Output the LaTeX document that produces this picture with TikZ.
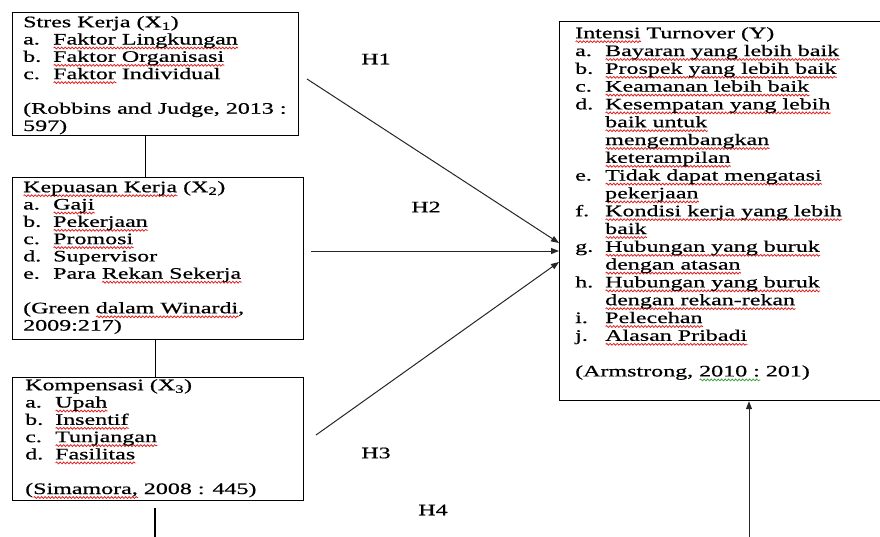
\documentclass[tikz,border=0pt]{standalone}
\usepackage{fontspec}
\usetikzlibrary{arrows.meta,calc,decorations.pathmorphing}
\newfontfamily\tnr[FakeStretch=1.5,FakeBold=0.6]{Liberation Serif}
\definecolor{spell}{RGB}{225,35,35}
\definecolor{gram}{RGB}{60,165,60}
\newcommand\wavy[2]{\setbox0=\hbox{#2}\leavevmode\rlap{\tikz[x=1pt,y=1pt,baseline=0pt]{\draw[#1,line width=0.8pt,decorate,decoration={snake,amplitude=0.9pt,segment length=3.5pt}] (0,-3.5) -- (\wd0,-3.5);}}\box0\relax}
\newcommand\rw[1]{\wavy{spell}{#1}}
\newcommand\gw[1]{\wavy{gram}{#1}}
\newcommand\itm[1]{\makebox[30pt][l]{#1}}
\newcommand\fst{\rule{0pt}{12pt}}
\newcommand\fA{\tnr\fontsize{16}{17.3}\selectfont}
\newcommand\fB{\tnr\fontsize{16}{17.8}\selectfont}
\setlength{\lineskiplimit}{-30pt}
\begin{document}
\begin{tikzpicture}[x=1pt,y=-1pt,
  box/.style={draw=black,line width=1.2pt,inner sep=0pt,anchor=north west},
  txt/.style={inner sep=0pt,anchor=north west,align=left,font=\fA},
  ytxt/.style={txt,font=\fB},
  hlbl/.style={inner sep=0pt,font=\fA},
  ln/.style={draw=black,line width=1.2pt},
  arr/.style={draw=black!85,line width=1pt,-{Triangle[length=8pt,width=6pt]}}]
\useasboundingbox (0,0) rectangle (880,536);
\clip (0,0) rectangle (880,536);
\fill[white] (0,0) rectangle (880,536);

% boxes
\node[box,minimum width=286pt,minimum height=123pt] (x1) at (12,12) {};
\node[box,minimum width=291pt,minimum height=162pt] (x2) at (12,177) {};
\node[box,minimum width=291pt,minimum height=123pt] (x3) at (12,377) {};
\node[box,minimum width=401pt,minimum height=379pt] (y) at (559,21) {};

% texts
\node[txt] (x1t) at (23,15) {\fst Stres Kerja (X\textsubscript{1})\\
\itm{a.}\rw{Faktor Lingkungan}\\
\itm{b.}\rw{Faktor Organisasi}\\
\itm{c.}\rw{Faktor} Individual\\
\mbox{}\\
(Robbins and Judge, 2013 :\\
597)};

\node[txt] (x2t) at (23,180) {\fst\rw{Kepuasan Kerja} (X\textsubscript{2})\\
\itm{a.}\rw{Gaji}\\
\itm{b.}\rw{Pekerjaan}\\
\itm{c.}\rw{Promosi}\\
\itm{d.}Supervisor\\
\itm{e.}Para \rw{Rekan Sekerja}\\
\mbox{}\\
(Green \rw{dalam Winardi},\\
2009:217)};

\node[txt] (x3t) at (25,378) {\fst Kompensasi (X\textsubscript{3})\\
\itm{a.}\rw{Upah}\\
\itm{b.}\rw{Insentif}\\
\itm{c.}\rw{Tunjangan}\\
\itm{d.}\rw{Fasilitas}\\
\mbox{}\\
(\rw{Simamora,} 2008 : 445)};

\node[ytxt] (yt) at (575,26) {\fst\rw{Intensi} Turnover (Y)\\
\itm{a.}\rw{Bayaran yang lebih baik}\\
\itm{b.}\rw{Prospek yang lebih baik}\\
\itm{c.}\rw{Keamanan lebih baik}\\
\itm{d.}\rw{Kesempatan yang lebih}\\
\itm{}\rw{baik untuk}\\
\itm{}\rw{mengembangkan}\\
\itm{}\rw{keterampilan}\\
\itm{e.}\rw{Tidak dapat mengatasi}\\
\itm{}\rw{pekerjaan}\\
\itm{f.}\rw{Kondisi kerja yang lebih}\\
\itm{}\rw{baik}\\
\itm{g.}\rw{Hubungan yang buruk}\\
\itm{}\rw{dengan atasan}\\
\itm{h.}\rw{Hubungan yang buruk}\\
\itm{}\rw{dengan rekan-rekan}\\
\itm{i.}\rw{Pelecehan}\\
\itm{j.}\rw{Alasan Pribadi}\\
\mbox{}\\
(Armstrong, \gw{2010 :} 201)};

% plain connectors between the X boxes
\draw[ln] ([xshift=-10pt]x1.south) -- ([xshift=-10pt]x1.south |- x2.north);
\draw[ln] ([xshift=-2.5pt]x2.south) -- ([xshift=-2.5pt]x2.south |- x3.north);
\coordinate (x3end) at (155,540);
\draw[ln] ([yshift=-7pt]x3.south -| x3end) -- (x3end);

% hypothesis arrows
\coordinate (h1s) at (307,79);
\coordinate (h2s) at (311,251);
\coordinate (h3s) at (316,435);
\coordinate (h4s) at (749,540);
\draw[arr] (h1s) -- ($(y.north west)+(0,222)$);
\draw[arr] (h2s) -- (h2s -| y.west);
\draw[arr] (h3s) -- ($(y.north west)+(0,241)$);
\draw[arr] (h4s) -- (h4s |- y.south);

% labels
\node[hlbl] (h1) at (376,59) {H1};
\node[hlbl] (h2) at (426,207) {H2};
\node[hlbl] (h3) at (376,453) {H3};
\node[hlbl] (h4) at (433,510) {H4};
\end{tikzpicture}
\end{document}
